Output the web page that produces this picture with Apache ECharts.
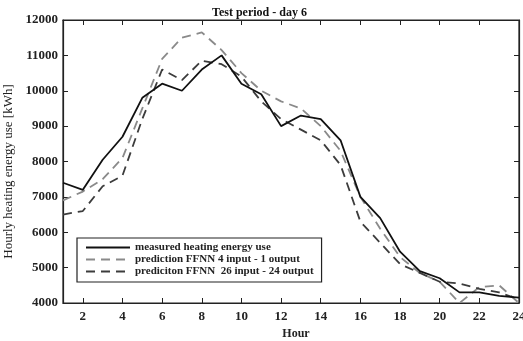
<!DOCTYPE html>
<html>
<head>
<meta charset="utf-8">
<script src="https://cdn.jsdelivr.net/npm/echarts@6/dist/echarts.min.js"></script>
<style>
  html, body { margin: 0; padding: 0; background: #fff; }
  #chart { width: 523px; height: 341px; }
</style>
</head>
<body>
<div id="chart"></div>
<script>
// hours on the x axis
const hours = [1, 2, 3, 4, 5, 6, 7, 8, 9, 10, 11, 12, 13, 14, 15, 16, 17, 18, 19, 20, 21, 22, 23, 24];
const xTicks = [2, 4, 6, 8, 10, 12, 14, 16, 18, 20, 22, 24];

// measured heating energy use [kWh]
const measured = [7400, 7200, 8050, 8700, 9800, 10200, 10000, 10600, 11000, 10200, 9900, 9000,
  9300, 9200, 8600, 7000, 6400, 5450, 4900, 4700, 4300, 4300, 4200, 4150];
// prediction FFNN 4 input - 1 output
const pred4 = [6900, 7150, 7500, 8100, 9500, 10900, 11500, 11650, 11150, 10500, 10000, 9700,
  9500, 9000, 8300, 7000, 6100, 5300, 4850, 4600, 4000, 4450, 4500, 4000];
// prediciton FFNN 26 input - 24 output
const pred26 = [6500, 6600, 7300, 7600, 9200, 10600, 10300, 10850, 10750, 10400, 9700, 9200,
  8900, 8600, 7900, 6300, 5700, 5100, 4850, 4600, 4550, 4400, 4300, 4100];

const names = [
  'measured heating energy use',
  'prediction FFNN 4 input - 1 output',
  'prediciton FFNN  26 input - 24 output'
];

const pairs = (vals) => hours.map((h, i) => [h, vals[i]]);

const chart = echarts.init(document.getElementById('chart'), null, { renderer: 'canvas' });

const font = 'Liberation Serif';

const option = {
  animation: false,
  title: {
    text: 'Test period - day 6',
    left: 207,
    top: 2,
    textStyle: { fontFamily: font, fontSize: 12, fontWeight: 'bold', color: '#111' }
  },
  grid: {
    left: 63, right: 4, top: 20, bottom: 38,
    outerBoundsMode: 'none',
    containLabel: false,
    show: true,
    borderColor: '#222',
    borderWidth: 1.2,
    backgroundColor: '#fff'
  },
  legend: {
    orient: 'vertical',
    left: 77,
    top: 238,
    width: 248,
    padding: [4, 8, 5, 8],
    itemGap: 1,
    itemWidth: 44,
    itemHeight: 12,
    borderColor: '#222',
    borderWidth: 1.2,
    backgroundColor: '#fff',
    itemStyle: { opacity: 0 },
    textStyle: { fontFamily: font, fontSize: 11, fontWeight: 'bold', color: '#222' },
    data: names
  },
  xAxis: [
    {
      type: 'value', min: 1, max: 24,
      name: 'Hour', nameLocation: 'middle', nameGap: 25,
      nameTextStyle: { fontFamily: font, fontSize: 12, fontWeight: 'bold', color: '#222', padding: [0, 0, 0, 10] },
      axisLine: { show: true, lineStyle: { color: '#222', width: 1.2 } },
      axisTick: { show: true, inside: true, length: 5, customValues: xTicks, lineStyle: { color: '#222' } },
      axisLabel: { customValues: xTicks, fontFamily: font, fontSize: 13, fontWeight: 'bold', color: '#222', margin: 7 },
      splitLine: { show: false }
    },
    {
      type: 'value', min: 1, max: 24, position: 'top',
      axisLine: { show: true, lineStyle: { color: '#222', width: 1.2 } },
      axisTick: { show: true, inside: true, length: 5, customValues: xTicks, lineStyle: { color: '#222' } },
      axisLabel: { show: false },
      splitLine: { show: false }
    }
  ],
  yAxis: [
    {
      type: 'value', min: 4000, max: 12000, interval: 1000,
      name: 'Hourly heating energy use [kWh]', nameLocation: 'middle', nameGap: 42,
      nameTextStyle: { fontFamily: font, fontSize: 13, color: '#222', padding: [0, 20, 0, 0] },
      axisLine: { show: true, lineStyle: { color: '#222', width: 1.2 } },
      axisTick: { show: true, inside: true, length: 5, lineStyle: { color: '#222' } },
      axisLabel: { fontFamily: font, fontSize: 13, fontWeight: 'bold', color: '#222', margin: 5,
        formatter: (v) => String(v) },
      splitLine: { show: false }
    },
    {
      type: 'value', min: 4000, max: 12000, interval: 1000, position: 'right',
      axisLine: { show: true, lineStyle: { color: '#222', width: 1.2 } },
      axisTick: { show: true, inside: true, length: 5, lineStyle: { color: '#222' } },
      axisLabel: { show: false },
      splitLine: { show: false }
    }
  ],
  series: [
    {
      name: names[0], type: 'line', symbol: 'none', z: 5,
      data: pairs(measured),
      lineStyle: { color: '#111', width: 1.8, type: 'solid' },
      itemStyle: { color: '#111' }
    },
    {
      name: names[1], type: 'line', symbol: 'none', z: 3,
      data: pairs(pred4),
      lineStyle: { color: '#8a8a8a', width: 1.8, type: [9, 6] },
      itemStyle: { color: '#8a8a8a' }
    },
    {
      name: names[2], type: 'line', symbol: 'none', z: 4,
      data: pairs(pred26),
      lineStyle: { color: '#3c3c3c', width: 1.8, type: [9, 6] },
      itemStyle: { color: '#3c3c3c' }
    }
  ]
};

chart.setOption(option);
</script>
</body>
</html>
